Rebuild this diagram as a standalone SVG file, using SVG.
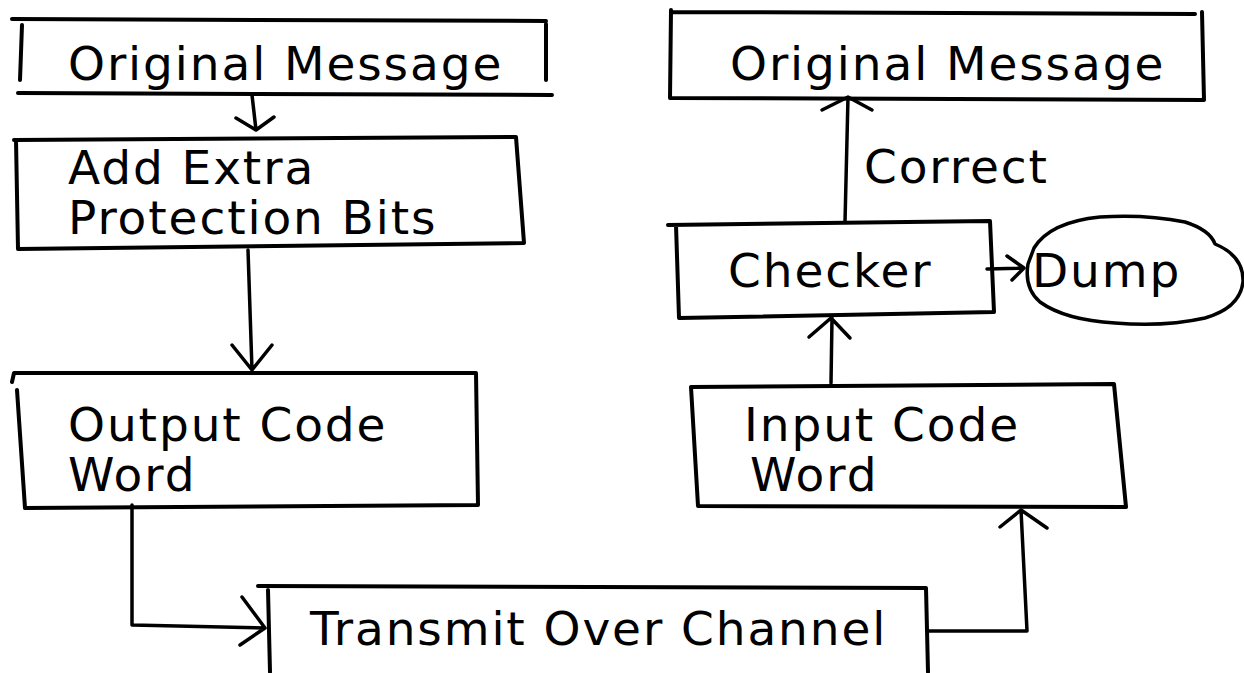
<svg xmlns="http://www.w3.org/2000/svg" width="1244" height="673" viewBox="0 0 1244 673">
  <style>
    .ln { fill: none; stroke: #000; stroke-width: 4; stroke-linecap: round; stroke-linejoin: round; }
    .ar { fill: none; stroke: #000; stroke-width: 3.5; stroke-linecap: round; stroke-linejoin: round; }
    .tx { font-family: "DejaVu Sans", sans-serif; font-size: 47px; letter-spacing: 1.9px; fill: #000; }
  </style>
  <rect width="1244" height="673" fill="#fff"/>

  <!-- sender side -->
  <g id="original-message-left">
    <path class="ln" d="M12 19 L546 21 M22 25 L20 80 M546 24 L546 80 M18 93 L552 95"/>
    <text class="tx" x="68" y="80">Original Message</text>
  </g>
  <g id="add-protection-bits">
    <path class="ln" d="M14 140 L516 137 L524 243 L18 249 L16 140"/>
    <text class="tx" x="68" y="184">Add Extra</text>
    <text class="tx" x="68" y="234">Protection Bits</text>
  </g>
  <g id="output-code-word">
    <path class="ln" d="M12 382 L14 373 L476 373 L478 505 L25 508 L17 390"/>
    <text class="tx" x="68" y="441">Output Code</text>
    <text class="tx" x="68" y="491">Word</text>
  </g>
  <g id="transmit-over-channel">
    <path class="ln" d="M258 586 L926 588 L928 672 M268 590 L270 672"/>
    <text class="tx" x="310" y="645">Transmit Over Channel</text>
  </g>

  <!-- receiver side -->
  <g id="input-code-word">
    <path class="ln" d="M691 387 L1114 384 L1126 507 L698 506 Z"/>
    <text class="tx" x="744" y="441">Input Code</text>
    <text class="tx" x="750" y="491">Word</text>
  </g>
  <g id="checker">
    <path class="ln" d="M668 225 L990 221 L994 312 L679 318 L676 225"/>
    <text class="tx" x="728" y="287">Checker</text>
  </g>
  <g id="dump">
    <path fill="none" stroke="#000" stroke-width="3.5" stroke-linejoin="round"
      d="M1034 248 Q1050 222 1100 217 Q1145 214 1185 222 Q1210 230 1215 244 Q1244 256 1243 282 Q1240 308 1205 318 Q1165 327 1115 323 Q1065 320 1040 302 Q1024 288 1028 264 Z"/>
    <text class="tx" x="1032" y="287">Dump</text>
  </g>
  <g id="original-message-right">
    <path class="ln" d="M672 12 L1195 14 M671 10 L670 98 L1204 100 L1202 12"/>
    <text class="tx" x="730" y="80">Original Message</text>
  </g>

  <!-- connectors -->
  <g id="connectors">
    <path class="ar" d="M252 95 L256 130 M236 118 L256 130 L274 117"/>
    <path class="ar" d="M248 250 L252 370 M232 345 L252 370 L272 345"/>
    <path class="ar" d="M132 505 L132 625 L265 628 M242 597 L265 628 L240 645"/>
    <path class="ar" d="M928 631 L1027 631 L1021 510 M1000 527 L1021 510 L1047 528"/>
    <path class="ar" d="M831 383 L832 318 M809 337 L831 318 L850 338"/>
    <path class="ar" d="M987 269 L1024 268 M1007 256 L1024 268 L1012 280"/>
    <path class="ar" d="M845 222 L848 97 M822 110 L848 97 L872 110"/>
    <text class="tx" x="864" y="183">Correct</text>
  </g>
</svg>
